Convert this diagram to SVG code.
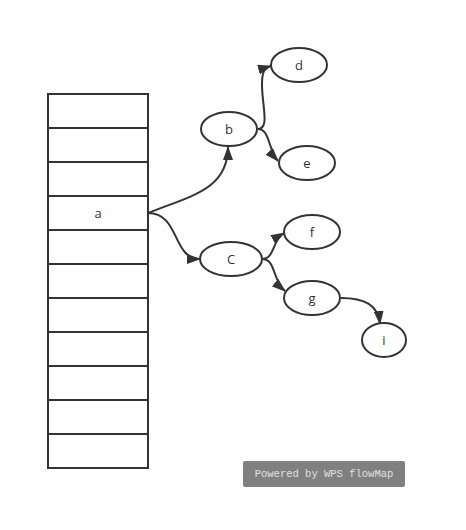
<svg xmlns="http://www.w3.org/2000/svg" width="466" height="530" viewBox="0 0 466 530">
<defs>
<style>
.cell{fill:#fff;stroke:#333;stroke-width:2}
.node{fill:#fff;stroke:#333;stroke-width:2}
.lbl{font-family:"Open Sans","Liberation Sans",sans-serif;font-size:13px;fill:#333;text-anchor:middle;dominant-baseline:central}
.edge{fill:none;stroke:#333;stroke-width:2;marker-end:url(#arr)}
</style>
<marker id="arr" viewBox="0 0 14 10" refX="13" refY="5" markerWidth="14" markerHeight="10" markerUnits="userSpaceOnUse" orient="auto">
<path d="M0,0 L14,5 L0,10 z" fill="#333"/>
</marker>
</defs>
<rect width="466" height="530" fill="#fff"/>
<g id="table">
<rect class="cell" x="48" y="94" width="100" height="34"/>
<rect class="cell" x="48" y="128" width="100" height="34"/>
<rect class="cell" x="48" y="162" width="100" height="34"/>
<rect class="cell" x="48" y="196" width="100" height="34"/>
<rect class="cell" x="48" y="230" width="100" height="34"/>
<rect class="cell" x="48" y="264" width="100" height="34"/>
<rect class="cell" x="48" y="298" width="100" height="34"/>
<rect class="cell" x="48" y="332" width="100" height="34"/>
<rect class="cell" x="48" y="366" width="100" height="34"/>
<rect class="cell" x="48" y="400" width="100" height="34"/>
<rect class="cell" x="48" y="434" width="100" height="34"/>
<text class="lbl" x="98" y="213">a</text>
</g>
<g id="connectors">
<path class="edge" d="M148,213 C190,196 228,190 228,147"/>
<path class="edge" d="M148,213 C180,213 172,259 200,259"/>
<path class="edge" d="M258,129 C270,129 262,105 262,85 C262,72 264,68 271,66"/>
<path class="edge" d="M258,129 C270,129 268,150 278,161"/>
<path class="edge" d="M262,259 C275,259 272,240 284,233"/>
<path class="edge" d="M262,259 C276,259 272,280 285,291"/>
<path class="edge" d="M341,298 C365,298 378,305 380,324"/>
</g>
<g id="node-b"><ellipse class="node" cx="229" cy="129" rx="28" ry="17"/><text class="lbl" x="229" y="129">b</text></g>
<g id="node-d"><ellipse class="node" cx="299" cy="65" rx="28" ry="17"/><text class="lbl" x="299" y="65">d</text></g>
<g id="node-e"><ellipse class="node" cx="307" cy="163" rx="28" ry="17"/><text class="lbl" x="307" y="163">e</text></g>
<g id="node-C"><ellipse class="node" cx="231" cy="259" rx="31" ry="17"/><text class="lbl" x="231" y="259">C</text></g>
<g id="node-f"><ellipse class="node" cx="312" cy="232" rx="28" ry="17"/><text class="lbl" x="312" y="232">f</text></g>
<g id="node-g"><ellipse class="node" cx="312" cy="298" rx="28" ry="17"/><text class="lbl" x="312" y="298">g</text></g>
<g id="node-i"><ellipse class="node" cx="384" cy="340" rx="22" ry="17"/><text class="lbl" x="384" y="340">i</text></g>
<g id="watermark">
<rect x="243" y="461" width="162" height="26" rx="2" fill="#808080"/>
<text x="324" y="474" font-family="Liberation Mono,monospace" font-size="10.5" fill="#e0e0e0" text-anchor="middle" dominant-baseline="central">Powered by WPS flowMap</text>
</g>
</svg>
